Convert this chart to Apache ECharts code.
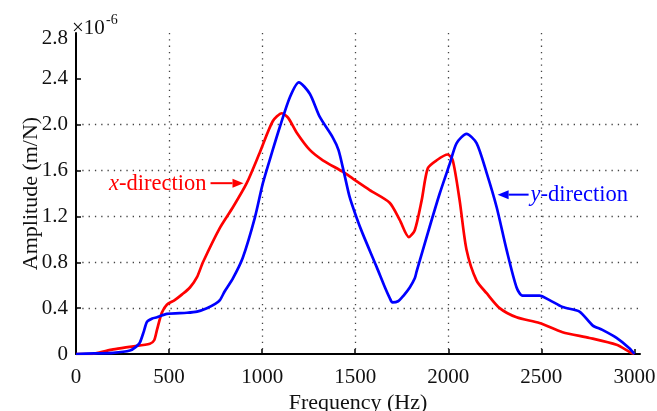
<!DOCTYPE html>
<html>
<head>
<meta charset="utf-8">
<script src="https://cdn.jsdelivr.net/npm/echarts@6/dist/echarts.min.js"></script>
<style>
  html, body { margin: 0; padding: 0; background: #fff; }
  #chart { width: 657px; height: 411px; }
</style>
</head>
<body>
<div id="chart"></div>
<script>
// Frequency response amplitude (x 1e-6 m/N) in the x and y directions
const freqX = [0, 80, 130, 200, 300, 397, 420, 435, 461, 488, 530, 570, 612, 650, 682, 773, 843, 917, 988, 1057, 1106, 1140, 1186, 1256, 1326, 1433, 1487, 1578, 1685, 1739, 1788, 1820, 1857, 1890, 1938, 1997, 2024, 2061, 2098, 2152, 2206, 2276, 2367, 2490, 2614, 2759, 2904, 2973, 3000];
const ampX  = [0, 0, 0.015, 0.04, 0.065, 0.09, 0.12, 0.21, 0.36, 0.43, 0.47, 0.52, 0.58, 0.67, 0.80, 1.10, 1.28, 1.49, 1.76, 2.03, 2.10, 2.06, 1.93, 1.78, 1.69, 1.59, 1.53, 1.43, 1.32, 1.17, 1.02, 1.08, 1.34, 1.62, 1.69, 1.74, 1.69, 1.34, 0.91, 0.64, 0.53, 0.40, 0.32, 0.27, 0.19, 0.14, 0.08, 0.02, 0];

const freqY = [0, 100, 200, 290, 320, 343, 365, 381, 410, 435, 488, 596, 650, 703, 750, 773, 800, 843, 896, 961, 1004, 1057, 1095, 1149, 1197, 1256, 1309, 1379, 1410, 1440, 1470, 1505, 1540, 1615, 1660, 1685, 1700, 1730, 1760, 1793, 1820, 1830, 1900, 1954, 2008, 2045, 2098, 2152, 2206, 2260, 2313, 2367, 2399, 2490, 2544, 2614, 2705, 2775, 2828, 2904, 2973, 3000];
const ampY  = [0, 0.005, 0.01, 0.03, 0.06, 0.10, 0.20, 0.28, 0.31, 0.32, 0.35, 0.36, 0.37, 0.40, 0.44, 0.47, 0.55, 0.66, 0.84, 1.19, 1.49, 1.78, 1.98, 2.24, 2.37, 2.27, 2.07, 1.89, 1.78, 1.58, 1.37, 1.20, 1.05, 0.76, 0.58, 0.49, 0.45, 0.46, 0.51, 0.58, 0.66, 0.72, 1.11, 1.40, 1.66, 1.84, 1.92, 1.84, 1.58, 1.28, 0.91, 0.58, 0.51, 0.51, 0.47, 0.41, 0.37, 0.25, 0.21, 0.14, 0.05, 0];

const xTicks = [0, 500, 1000, 1500, 2000, 2500, 3000];
const yTicks = [0, 0.4, 0.8, 1.2, 1.6, 2.0, 2.4, 2.8];

const FONT = '"Liberation Serif", "Times New Roman", serif';
const RED = '#ff0000';
const BLUE = '#0000ff';

const pairs = (xs, ys) => xs.map((x, i) => [x, ys[i]]);

const chart = echarts.init(document.getElementById('chart'), null, { renderer: 'canvas' });

const gridLine = { show: true, showMinLine: false, showMaxLine: false,
  lineStyle: { color: '#444', width: 1.3, type: [1.3, 5] } };

const yMax = yTicks[yTicks.length - 1];

chart.setOption({
  animation: false,
  backgroundColor: '#fff',
  grid: { left: 76, right: 17, top: 33, bottom: 57, containLabel: false, outerBoundsMode: 'none' },
  xAxis: {
    type: 'value', min: 0, max: 3030, interval: 500,
    name: 'Frequency (Hz)', nameLocation: 'middle', nameGap: 38, nameMoveOverlap: false,
    nameTextStyle: { fontFamily: FONT, fontSize: 22, color: '#111' },
    axisLine: { show: true, onZero: false, lineStyle: { color: '#000', width: 2 } },
    axisTick: { show: true, inside: true, length: 5, customValues: xTicks, lineStyle: { color: '#000', width: 1.5 } },
    axisLabel: { customValues: xTicks, margin: 13, fontFamily: FONT, fontSize: 21, color: '#111',
      formatter: v => String(Math.round(v)) },
    splitLine: gridLine
  },
  yAxis: {
    type: 'value', min: 0, max: yMax, interval: 0.4,
    name: 'Amplitude (m/N)', nameLocation: 'middle', nameGap: 34, nameMoveOverlap: false,
    nameTextStyle: { fontFamily: FONT, fontSize: 22, color: '#111' },
    axisLine: { show: true, lineStyle: { color: '#000', width: 2 } },
    axisTick: { show: true, inside: true, length: 5, customValues: yTicks.slice(0, -1), lineStyle: { color: '#000', width: 1.5 } },
    axisLabel: { customValues: yTicks, margin: 8, fontFamily: FONT, fontSize: 21, color: '#111',
      formatter: v => (v === 0 ? '0' : (Math.abs(v - yMax) < 1e-9 ? '{top|' + v.toFixed(1) + '}' : v.toFixed(1))),
      rich: { top: { fontFamily: FONT, fontSize: 21, color: '#111', padding: [10, 0, 0, 0] } } },
    splitLine: gridLine
  },
  series: [
    { name: 'x-direction', type: 'line', data: pairs(freqX, ampX), showSymbol: false,
      smooth: 0.25, lineStyle: { color: RED, width: 2.7 }, z: 3 },
    { name: 'y-direction', type: 'line', data: pairs(freqY, ampY), showSymbol: false,
      smooth: 0.25, lineStyle: { color: BLUE, width: 2.7 }, z: 4 }
  ]
});

// Annotation arrows anchored to points in data space
function arrowGroup(tip, tail, color) {
  const dir = tip[0] - tail[0] >= 0 ? 1 : -1;
  const headLen = 11, headHalf = 4.5;
  const baseX = tip[0] - dir * headLen;
  return [
    { type: 'line', shape: { x1: tail[0], y1: tail[1], x2: baseX, y2: tip[1] },
      style: { stroke: color, lineWidth: 2 }, z: 10 },
    { type: 'polygon', shape: { points: [[tip[0], tip[1]], [baseX, tip[1] - headHalf], [baseX, tip[1] + headHalf]] },
      style: { fill: color }, z: 10 }
  ];
}

const tipX = chart.convertToPixel({ gridIndex: 0 }, [900, 1.49]);
const tipY = chart.convertToPixel({ gridIndex: 0 }, [2265, 1.39]);
const tailX = [tipX[0] - 33, tipX[1]];
const tailY = [tipY[0] + 31, tipY[1]];
const ANN = '22.5px ' + FONT;

chart.setOption({
  graphic: [
    ...arrowGroup(tipX, tailX, RED),
    ...arrowGroup(tipY, tailY, BLUE),
    { type: 'text', x: tailX[0] - 4, y: tipX[1] + 1, z: 10,
      style: { text: '{i|x}-direction', fill: RED, font: ANN, align: 'right', verticalAlign: 'middle',
        rich: { i: { fontStyle: 'italic', fontFamily: FONT, fontSize: 22.5, fill: RED } } } },
    { type: 'text', x: tailY[0] + 2, y: tipY[1], z: 10,
      style: { text: '{i|y}-direction', fill: BLUE, font: ANN, align: 'left', verticalAlign: 'middle',
        rich: { i: { fontStyle: 'italic', fontFamily: FONT, fontSize: 22.5, fill: BLUE } } } },
    { type: 'text', x: 72, y: 39, z: 10,
      style: { text: '×10', fill: '#111', font: '21px ' + FONT, align: 'left', verticalAlign: 'bottom' } },
    { type: 'text', x: 106, y: 13, z: 10,
      style: { text: '-6', fill: '#111', font: '14px ' + FONT, align: 'left', verticalAlign: 'top' } }
  ]
});
</script>
</body>
</html>
